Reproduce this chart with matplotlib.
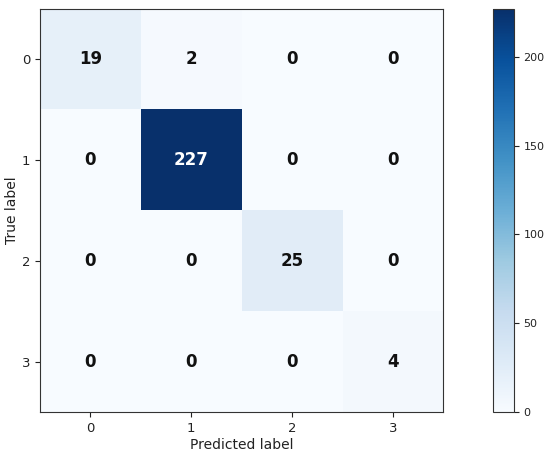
import numpy as np
import matplotlib
matplotlib.use('Agg')
import matplotlib.pyplot as plt

# 混淆矩阵数据
classes = ['0', '1', '2', '3']
cm = np.array([[19, 2, 0, 0],
               [0, 227, 0, 0],
               [0, 0, 25, 0],
               [0, 0, 0, 4]])

fig = plt.figure(figsize=(5.5, 4.58), dpi=100)
ax = fig.add_axes([0.0727, 0.1004, 0.733, 0.880])
cax = fig.add_axes([0.896, 0.1004, 0.038, 0.880])

im = ax.imshow(cm, interpolation='nearest', cmap=plt.cm.Blues, aspect='auto')
cb = fig.colorbar(im, cax=cax)
cb.set_ticks([0, 50, 100, 150, 200])
cb.ax.tick_params(labelsize=8, colors='#222222')
cb.outline.set_edgecolor('#333333')

ax.set_xticks(np.arange(len(classes)))
ax.set_yticks(np.arange(len(classes)))
ax.set_xticklabels(classes)
ax.set_yticklabels(classes)
ax.tick_params(labelsize=9.5, colors='#222222')
for s in ax.spines.values():
    s.set_edgecolor('#333333')
ax.set_xlabel('Predicted label', fontsize=10, labelpad=2, color='#222222')
ax.set_ylabel('True label', fontsize=10, labelpad=2, color='#222222')

# 添加格子数值
thresh = cm.max() / 2.
for i in range(cm.shape[0]):
    for j in range(cm.shape[1]):
        ax.text(j, i, format(cm[i, j], 'd'), ha='center', va='center',
                fontsize=12, fontweight='bold',
                color='white' if cm[i, j] > thresh else '#111111')

fig.savefig('out.png', dpi=100)
